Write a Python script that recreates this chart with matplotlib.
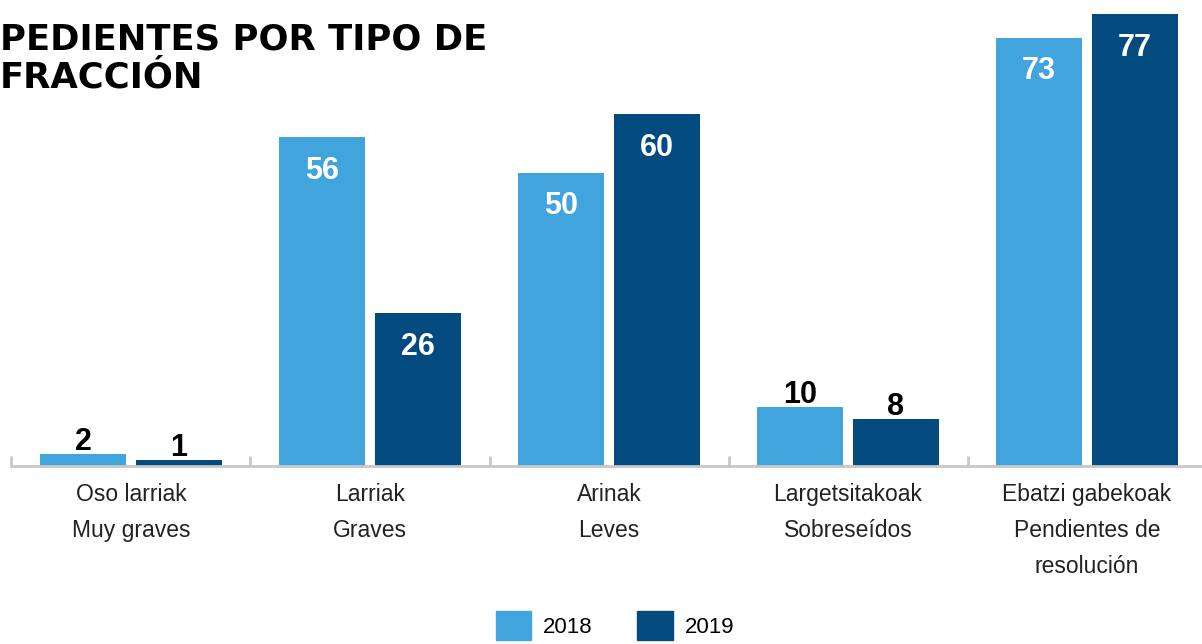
import matplotlib.pyplot as plt
from matplotlib.patches import Patch

categories = ["Oso larriak\nMuy graves", "Larriak\nGraves", "Arinak\nLeves",
              "Largetsitakoak\nSobreseídos", "Ebatzi gabekoak\nPendientes de\nresolución"]
years = ["2018", "2019"]
values_2018 = [2, 56, 50, 10, 73]
values_2019 = [1, 26, 60, 8, 77]
colors = ["#41a4dd", "#034a7e"]

fig = plt.figure(figsize=(12.02, 6.44), dpi=100)
ax = fig.add_axes([0, 0.2764, 1, 0.7236])
ax.set_xlim(-0.548, 4.481)
ax.set_ylim(0, 79.4)
for s in ax.spines.values():
    s.set_visible(False)
ax.set_yticks([])

x = list(range(len(categories)))
w = 0.36
off = 0.2
bars1 = ax.bar([i - off for i in x], values_2018, width=w, color=colors[0])
bars2 = ax.bar([i + off for i in x], values_2019, width=w, color=colors[1])

# baseline and separators
ax.plot([-0.5, 5], [0, 0], color="#c8c8c8", lw=2, clip_on=False, zorder=3)
ax.vlines([b + 0.5 for b in range(-1, 5)], 0, 1.7, color="#c8c8c8", lw=2, zorder=3)

numfont = dict(family="Liberation Sans", fontweight="bold", fontsize=22)
for bars in (bars1, bars2):
    for b in bars:
        h = b.get_height()
        cx = b.get_x() + b.get_width() / 2
        if h > 20:
            ax.annotate(str(int(h)), (cx, h), xytext=(0, -30), textcoords="offset points",
                        ha="center", va="baseline", color="white", **numfont)
        else:
            ax.annotate(str(int(h)), (cx, h), xytext=(0, 3), textcoords="offset points",
                        ha="center", va="baseline", color="black", **numfont)

ax.set_xticks(x)
ax.set_xticklabels(categories, family="Liberation Sans", fontsize=16.5,
                   color="#222222", linespacing=1.72)
ax.tick_params(axis="x", length=0, pad=12)

fig.text(0.0, 0.965, "PEDIENTES POR TIPO DE\nFRACCIÓN", family="DejaVu Sans",
         fontweight="heavy", fontsize=25.5, va="top", ha="left", linespacing=1.15)

handles = [Patch(color=colors[0]), Patch(color=colors[1])]
fig.legend(handles, years, loc="upper left", bbox_to_anchor=(0.403, 0.068), frameon=False,
           ncol=2, borderpad=0, handlelength=1.6, handleheight=1.6, handletextpad=0.55,
           columnspacing=2.0, prop=dict(family="Liberation Sans", size=16))

fig.savefig("out.png", dpi=100)
